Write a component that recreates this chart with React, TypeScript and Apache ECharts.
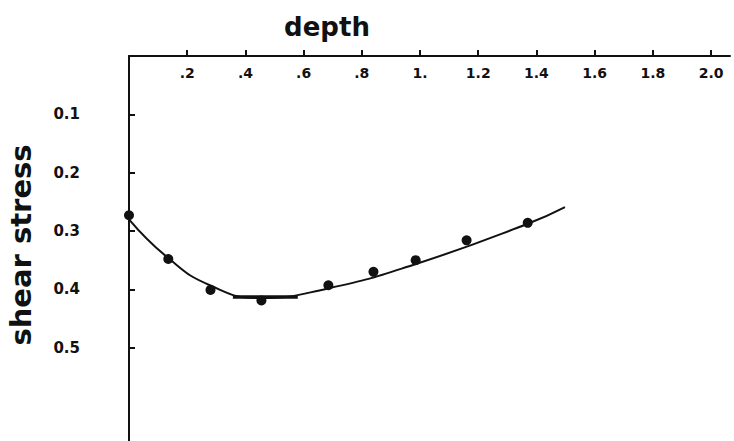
import React, { useEffect, useRef } from "react";
import * as echarts from "echarts";

// Measured points: depth vs. shear stress
const depth = [0, 0.135, 0.28, 0.455, 0.685, 0.84, 0.985, 1.16, 1.37];
const shearStress = [0.273, 0.348, 0.401, 0.419, 0.393, 0.37, 0.35, 0.316, 0.286];

// Hand-fitted curve through the measurements
const fitDepth = [0, 0.134, 0.278, 0.45, 0.687, 0.983, 1.368, 1.498];
const fitStress = [0.28, 0.346, 0.393, 0.415, 0.398, 0.357, 0.288, 0.259];

// Flat stroke marking the minimum of the curve
const minimumDepth = [0.357, 0.58];
const minimumStress = [0.413, 0.413];

// Axis ticks and their printed labels
const depthTicks = [0.2, 0.4, 0.6, 0.8, 1.0, 1.2, 1.4, 1.6, 1.8, 2.0];
const depthTickLabels = [".2", ".4", ".6", ".8", "1.", "1.2", "1.4", "1.6", "1.8", "2.0"];
const stressTicks = [0.1, 0.2, 0.3, 0.4, 0.5];
const stressTickLabels = ["0.1", "0.2", "0.3", "0.4", "0.5"];

const INK = "#111";

function labelFor(value: number, ticks: number[], labels: string[]): string {
  const i = ticks.findIndex((t) => Math.abs(t - value) < 1e-6);
  return i >= 0 ? labels[i] : "";
}

export default function App() {
  const ref = useRef<HTMLDivElement>(null);

  useEffect(() => {
    if (!ref.current) return;
    const chart = echarts.init(ref.current, null, { renderer: "svg" });

    chart.setOption({
      animation: false,
      backgroundColor: "#fff",
      grid: { left: 129, top: 56, right: 4, bottom: 0 },
      xAxis: {
        type: "value",
        position: "top",
        min: 0,
        max: 2.065,
        splitLine: { show: false },
        axisLine: { show: true, lineStyle: { color: INK, width: 2 } },
        axisTick: {
          show: true,
          inside: false,
          length: 6,
          customValues: depthTicks,
          lineStyle: { color: INK, width: 2 },
        },
        axisLabel: {
          inside: true,
          margin: 10,
          customValues: depthTicks,
          color: INK,
          fontFamily: "DejaVu Sans",
          fontWeight: "bold",
          fontSize: 14,
          formatter: (v: number) => labelFor(v, depthTicks, depthTickLabels),
        },
      },
      yAxis: {
        type: "value",
        inverse: true,
        min: 0,
        max: 0.66,
        splitLine: { show: false },
        axisLine: { show: true, lineStyle: { color: INK, width: 2 } },
        axisTick: {
          show: true,
          inside: true,
          length: 6,
          customValues: stressTicks,
          lineStyle: { color: INK, width: 2 },
        },
        axisLabel: {
          margin: 49,
          customValues: stressTicks,
          color: INK,
          fontFamily: "DejaVu Sans",
          fontWeight: "bold",
          fontSize: 15,
          formatter: (v: number) => labelFor(v, stressTicks, stressTickLabels),
        },
      },
      graphic: [
        {
          type: "text",
          x: 327,
          y: 27,
          style: {
            text: "depth",
            fill: INK,
            font: "bold 26px 'DejaVu Sans'",
            align: "center",
            verticalAlign: "middle",
          },
        },
        {
          type: "text",
          x: 21,
          y: 245,
          rotation: Math.PI / 2,
          style: {
            text: "shear stress",
            fill: INK,
            font: "bold 29px 'DejaVu Sans'",
            align: "center",
            verticalAlign: "middle",
          },
        },
      ],
      series: [
        {
          type: "line",
          data: fitDepth.map((d, i) => [d, fitStress[i]]),
          smooth: 0.5,
          showSymbol: false,
          lineStyle: { color: INK, width: 2 },
          z: 2,
        },
        {
          type: "line",
          data: minimumDepth.map((d, i) => [d, minimumStress[i]]),
          showSymbol: false,
          lineStyle: { color: INK, width: 3.5 },
          z: 2,
        },
        {
          type: "scatter",
          data: depth.map((d, i) => [d, shearStress[i]]),
          symbol: "circle",
          symbolSize: 10,
          itemStyle: { color: INK, opacity: 1 },
          z: 3,
        },
      ],
    });

    return () => chart.dispose();
  }, []);

  return (
    <div
      ref={ref}
      style={{ position: "absolute", left: 0, top: 0, width: 734, height: 441, background: "#fff" }}
    />
  );
}
